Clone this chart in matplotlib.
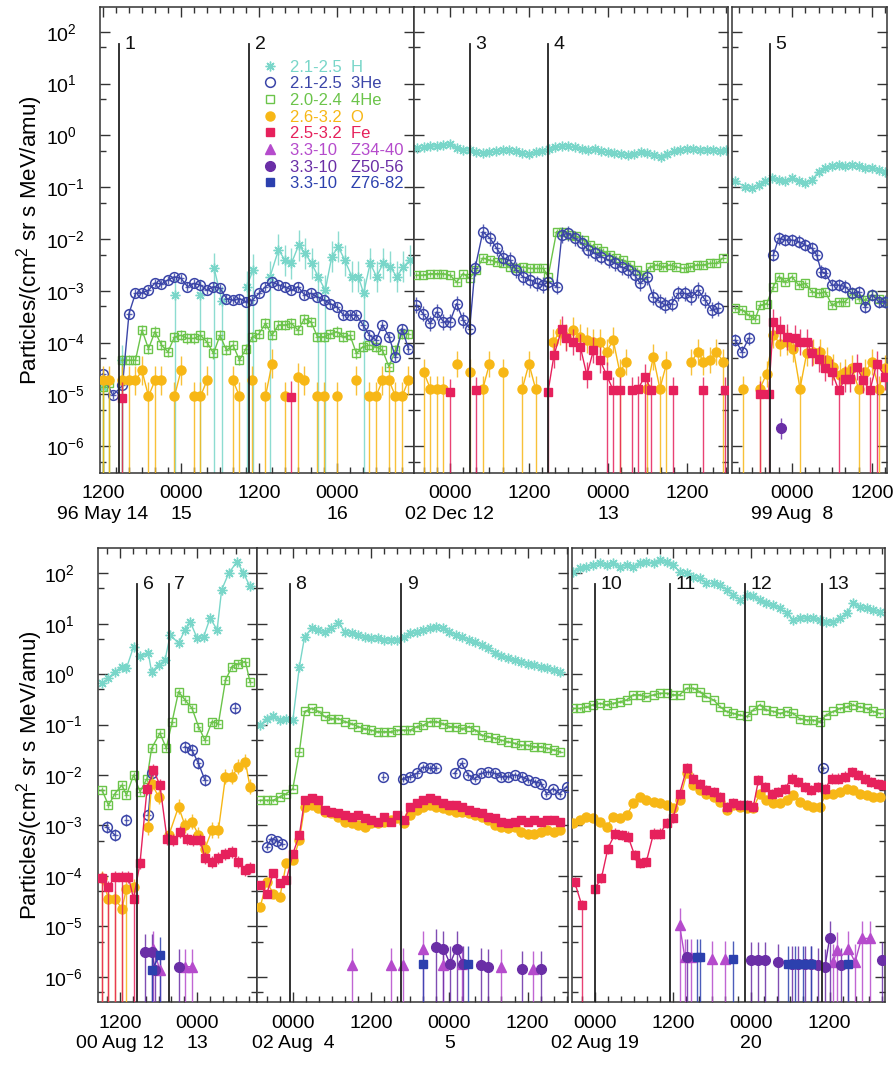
import numpy as np
import matplotlib
matplotlib.use("Agg")
import matplotlib.pyplot as plt
from matplotlib.lines import Line2D
from matplotlib.ticker import FixedLocator, MultipleLocator, NullFormatter, LogFormatterSciNotation

plt.rcParams['font.family'] = ['Liberation Sans', 'DejaVu Sans']
plt.rcParams['mathtext.fontset'] = 'custom'
plt.rcParams['mathtext.rm'] = 'Liberation Sans'
plt.rcParams['mathtext.it'] = 'Liberation Sans:italic'

# ---- data: hours from 00:00 of the first day of each panel, log10 intensity ----
# panel 1: 96 May 14-16
h1_t = [12, 14.9, 23.1, 27, 29.1, 30.3, 34.1, 35.1, 37.7, 39, 40, 41, 42.1, 43.1, 44.1, 45.1, 46.2,
        47.2, 48.2, 49.2, 50.3, 51.3, 52.1, 53.1, 54.1, 55.1, 56.2, 57.2, 58.2, 59.2]
h1 = [-4.85, -4.34, -3.08, -3.08, -2.57, -3.2, -2.92, -2.6, -2.73, -2.21, -2.41, -2.47, -2.12, -2.28,
      -2.47, -2.73, -2.99, -2.34, -2.15, -2.41, -2.73, -2.73, -3.05, -2.47, -2.73, -2.47, -2.54, -2.73,
      -2.54, -2.41]
h1_floor = [0, 1, 2, 3, 4, 5, 6, 7, 8, 15, 16, 22]
he3_1_t = [12, 13.5, 15, 16, 17, 18, 19, 20, 21, 22, 23, 24, 25, 26, 27, 28, 29, 30, 31, 32, 33, 34,
           35, 36, 37, 38, 39, 40, 41, 42, 43, 44, 45, 46, 47, 48, 49, 50, 51, 52, 53, 54, 55, 56, 57,
           58, 59]
he3_1 = [-4.6, -5.02, -4.83, -3.44, -3.05, -3.04, -2.99, -2.85, -2.87, -2.79, -2.73, -2.76, -2.92,
         -2.86, -2.89, -2.99, -2.92, -2.95, -3.15, -3.18, -3.15, -3.21, -3.18, -3.05, -2.92, -2.83,
         -2.89, -2.92, -2.99, -2.92, -3.08, -3.05, -3.12, -3.18, -3.25, -3.31, -3.47, -3.47, -3.47,
         -3.66, -3.86, -3.95, -3.66, -3.89, -4.28, -3.73, -4.12]
he4_1_t = [12, 13, 15, 16, 17, 18, 19, 20, 21, 22, 23, 24, 25, 26, 27, 28, 29, 30, 31, 32, 33, 34,
           35, 36, 37, 38, 39, 40, 41, 42, 43, 44, 45, 46, 47, 48, 49, 50, 51, 52, 53, 54, 55, 56, 57,
           58, 59]
he4_1 = [-4.86, -4.79, -4.34, -4.34, -4.34, -3.76, -4.12, -3.79, -4.05, -4.18, -3.89, -3.86, -3.92,
         -3.92, -3.86, -3.99, -4.21, -3.86, -4.15, -4.05, -4.34, -4.12, -3.89, -3.83, -3.63, -3.86,
         -3.66, -3.66, -3.63, -3.76, -3.54, -3.6, -3.89, -3.89, -3.83, -3.79, -3.89, -3.86, -4.21,
         -4.08, -4.05, -4.08, -4.15, -4.47, -4.15, -3.83, -3.83]
he4_1_floor = [0, 1, 2]
o1_t = [12, 13, 15, 16, 17, 18, 19, 20, 21, 23, 24, 26, 27, 28, 32, 33, 35, 37, 38, 40, 42, 43, 45,
        46, 48, 51, 53, 54, 55, 56, 57, 58, 59]
o1 = [-4.73, -4.73, -4.73, -4.73, -4.73, -4.54, -5.04, -4.73, -4.73, -5.04, -4.54, -5.04, -5.04,
      -4.73, -4.73, -5.04, -4.73, -5.04, -4.41, -5.04, -4.67, -4.73, -5.04, -5.04, -5.04, -4.73,
      -5.04, -5.04, -4.73, -4.73, -5.04, -5.04, -4.73]
o1_floor = [0, 1, 3, 6, 7, 9, 11, 12, 14, 15, 16, 17, 19, 20, 22, 23, 24, 26, 27, 29, 30, 31]
fe1_t = [15, 41]
fe1 = [-5.07, -5.05]

# panel 2: 02 Dec 12-13
h2_t = [-5, -4, -3, -2, -1, 0, 1, 2, 3, 4, 5, 6, 7, 8, 9, 10, 11, 12, 13, 14, 15, 16, 17, 18, 19, 20,
        21, 22, 23, 24, 25, 26, 27, 28, 29, 30, 31, 32, 33, 34, 35, 36, 37, 38, 39, 40, 41, 42]
h2 = [-0.25, -0.23, -0.21, -0.2, -0.19, -0.16, -0.25, -0.28, -0.29, -0.33, -0.34, -0.32, -0.31, -0.28,
      -0.29, -0.31, -0.34, -0.36, -0.33, -0.31, -0.26, -0.23, -0.2, -0.21, -0.23, -0.26, -0.28, -0.26,
      -0.31, -0.33, -0.34, -0.36, -0.37, -0.36, -0.33, -0.34, -0.37, -0.41, -0.36, -0.31, -0.29, -0.27,
      -0.26, -0.28, -0.29, -0.28, -0.31, -0.29]
he3_2_t = [-5.1, -4.1, -3, -2, -1, 0, 1, 2, 3, 3.8, 5, 6.1, 7.1, 8.1, 9.1, 10.1, 11.1, 12.2, 13.2, 14.2,
           14.9, 16.2, 17, 18, 19, 20, 21, 22, 23, 24.1, 25.1, 26.1, 27.1, 28.1, 28.9, 29.9, 30.9,
           31.9, 32.7, 33.7, 34.7, 35.7, 36.7, 37.7, 38.8, 39.8, 40.8]
he3_2 = [-3.28, -3.44, -3.63, -3.41, -3.6, -3.6, -3.25, -3.57, -3.73, -2.57, -1.86, -1.99, -2.18,
         -2.37, -2.41, -2.6, -2.73, -2.79, -2.86, -2.89, -2.83, -2.92, -1.92, -1.89, -1.99, -2.08,
         -2.21, -2.28, -2.34, -2.41, -2.47, -2.54, -2.6, -2.7, -2.86, -2.73, -3.12, -3.21, -3.28,
         -3.25, -3.05, -3.05, -3.12, -2.99, -3.18, -3.37, -3.34]
he4_2_t = [-5.1, -4.1, -3, -2, -1, 0, 1, 2, 3, 4, 5, 6.1, 7.1, 8.1, 9.1, 10.1, 11.1, 12.2, 13.2, 14.2,
           14.9, 16.2, 17.2, 18.2, 19.2, 20.3, 21.3, 22.3, 23.3, 24.3, 25.3, 26.3, 27.4, 28.4, 29.4,
           30.4, 31.4, 32.4, 33.4, 34.4, 35.5, 36.5, 37.5, 38.5, 39.5, 40.5, 41.5]
he4_2 = [-2.7, -2.7, -2.67, -2.67, -2.67, -2.7, -2.83, -2.67, -2.76, -2.6, -2.37, -2.41, -2.44, -2.47,
         -2.54, -2.57, -2.54, -2.57, -2.57, -2.57, -2.73, -1.86, -1.86, -1.92, -1.95, -2.02, -2.12,
         -2.18, -2.24, -2.31, -2.37, -2.41, -2.5, -2.6, -2.7, -2.54, -2.5, -2.54, -2.5, -2.54, -2.57,
         -2.54, -2.5, -2.5, -2.47, -2.47, -2.37]
o2_t = [-4, -3, -2, -1, 1, 3, 5, 6, 8, 11, 12, 13, 15.7, 16.7, 17.7, 18.7, 19.8, 20.8, 21.8, 22.8,
        23.8, 24.8, 25.8, 26.8, 29.9, 30.9, 31.9, 32.9, 36.7, 37.7, 38.5, 39.5, 40.5, 41.5]
o2 = [-4.57, -4.89, -4.89, -4.89, -4.41, -4.57, -4.89, -4.41, -4.57, -4.89, -4.41, -4.89, -3.99,
      -3.79, -3.89, -3.76, -3.89, -3.95, -3.99, -3.99, -4.18, -3.95, -4.57, -4.37, -4.89, -4.28,
      -4.89, -4.41, -4.37, -4.18, -4.37, -4.34, -4.18, -4.37]
o2_floor = [0, 1, 2, 3, 5, 6, 8, 9, 11, 22, 24, 26, 27, 33]
fe2_t = [0, 4, 14.9, 15.8, 17, 17.7, 18.7, 19.8, 20.8, 21.8, 22.8, 23.8, 24.8, 25.8, 27.6, 28.6, 29.6,
         30.6, 33.9, 38.5, 41.8]
fe2 = [-4.95, -4.92, -4.95, -4.25, -3.73, -3.92, -3.99, -4.08, -4.63, -4.15, -4.34, -4.63, -4.92,
       -4.92, -4.92, -4.89, -4.66, -4.92, -4.92, -4.92, -4.92]
fe2_floor = [0, 1, 2, 11, 12, 13, 14, 15, 16, 17, 18, 19, 20]

# panel 3: 99 Aug 7-8
h3_t = [-8.5, -7, -6, -5, -4, -3, -2, -1, 0, 1, 2, 3, 4, 5, 6, 7, 8, 9, 10, 11, 12, 13, 14]
h3 = [-0.89, -0.99, -1.02, -0.95, -0.89, -0.83, -0.86, -0.89, -0.83, -0.89, -0.92, -0.86, -0.7,
      -0.63, -0.6, -0.57, -0.6, -0.57, -0.6, -0.63, -0.63, -0.66, -0.7]
he3_3_t = [-8.5, -7.5, -6.5, -2.8, -2, -1, 0, 1, 2, 3, 3.7, 4.4, 5, 6, 7, 8, 9, 10, 11, 12, 13, 14]
he3_3 = [-3.95, -4.18, -3.92, -2.31, -1.99, -2.02, -2.02, -2.05, -2.12, -2.18, -2.31, -2.63, -2.66,
         -2.89, -2.89, -2.92, -3.05, -3.02, -3.31, -3.08, -3.21, -3.21]
he4_3_t = [-8.5, -7.5, -6.5, -5.5, -4.8, -3.8, -2.8, -2, -1, 0, 1, 2, 3, 4, 5, 6, 7, 8, 9, 10, 11, 12,
           13, 14]
he4_3 = [-3.34, -3.37, -3.47, -3.54, -3.28, -3.25, -2.92, -2.73, -2.83, -2.73, -2.89, -2.86, -3.02,
         -3.05, -3.02, -3.28, -3.21, -3.21, -3.05, -3.15, -3.18, -3.08, -3.15, -3.21]
o3_t = [-7.3, -4.8, -3.8, -2.8, -1.8, -0.8, 0.2, 1.2, 2.2, 3.2, 4.2, 5.2, 6.2, 7.2, 8, 9, 10, 11, 12,
        13, 14]
o3 = [-4.89, -4.89, -4.6, -3.86, -4.02, -3.99, -4.12, -4.89, -4.21, -4.18, -4.18, -4.34, -4.47,
      -4.63, -4.57, -4.5, -4.89, -4.57, -4.37, -4.89, -4.5]
o3_floor = [0, 1, 7, 16, 19]
fe3_t = [-4.8, -3.5, -2.8, -1.8, -0.8, 0.4, 1.2, 2.2, 3, 4, 5, 6, 7, 8, 8.7, 9.7, 10.7, 11.7, 12.7, 14]
fe3 = [-4.99, -4.99, -3.6, -3.73, -3.89, -3.92, -3.99, -3.99, -4.21, -4.31, -4.5, -4.57, -4.92,
       -4.7, -4.7, -4.47, -4.73, -4.92, -4.41, -4.66]
fe3_floor = [0, 1, 12, 17, 18]
z50_3_t = [-1.6]
z50_3 = [-5.66]

# panel 4: 00 Aug 12-13
h4_t = [9.2, 10.2, 11.2, 12.3, 13, 14.1, 15.1, 16.4, 16.9, 18, 19, 19.8, 21.1, 22.1, 22.9, 24, 25,
        26, 27.1, 27.8, 28.9, 30.2, 31.2, 32.2]
h4 = [-0.18, -0.08, 0.05, 0.15, 0.12, 0.54, 0.35, 0.41, 0.05, 0.18, 0.28, 0.78, 0.61, 0.88, 1.04,
      0.71, 0.74, 1.11, 0.88, 1.67, 2.0, 2.23, 2.0, 1.74]
he4_4_t = [9.2, 10.2, 11.2, 12.3, 13, 14.1, 15.1, 16.2, 16.9, 18.2, 19.2, 20.1, 21.1, 22.1, 23.2,
           24.2, 25.2, 26.3, 27.3, 28.4, 29.4, 30.4, 31.5, 32.2]
he4_4 = [-2.3, -2.6, -2.37, -2.2, -2.4, -2.0, -2.33, -2.07, -1.47, -1.17, -1.47, -0.94, -0.35, -0.51,
         -0.68, -1.04, -1.31, -0.94, -0.98, -0.12, 0.15, 0.21, 0.25, -0.15]
he3_4_t = [9.9, 11.2, 13, 16.4, 16.9, 22.1, 23.2, 24.2, 25.2, 29.9]
he3_4 = [-3.03, -3.19, -2.89, -2.79, -1.97, -1.44, -1.51, -1.77, -2.1, -0.68]
o4_t = [9.2, 10.2, 11.2, 12.3, 13, 14.1, 16.4, 16.9, 18, 19.6, 21.1, 22.1, 23.2, 24.2, 25.2, 26.3,
        27.3, 28.4, 29.4, 30.4, 31.5, 32.2]
o4 = [-4.05, -4.45, -4.45, -4.65, -4.25, -4.22, -3.03, -2.17, -2.43, -3.19, -2.63, -3.0, -2.93,
      -3.19, -3.46, -3.09, -3.09, -2.03, -2.03, -1.84, -1.74, -2.23]
o4_floor = [0, 1, 2, 3, 4]
fe4_t = [9.2, 10.2, 11.2, 12.3, 13.3, 14.1, 15.1, 16.2, 17.2, 18.2, 19.3, 20.3, 21.4, 22.4, 23.4,
         24.5, 25.2, 26.3, 27.3, 28.4, 29.4, 30.4, 31.5, 32.2]
fe4 = [-4.05, -4.22, -4.02, -4.02, -4.02, -4.45, -3.75, -2.27, -1.9, -2.2, -3.26, -3.29, -3.13, -3.26,
       -3.29, -3.29, -3.65, -3.72, -3.65, -3.56, -3.52, -3.72, -3.89, -3.85]
fe4_floor = [0, 1, 2, 3, 5]
z34_4_t = [17.2, 18.2, 22.1, 23.2]
z34_4 = [-5.44, -5.87, -5.8, -5.8]
z50_4_t = [15.9, 16.9, 17.5, 21.1]
z50_4 = [-5.51, -5.51, -5.87, -5.8]
z76_4_t = [16.9, 18.2]
z76_4 = [-5.87, -5.57]

# panel 5: 02 Aug 3-5
t5 = [-5, -4, -3, -2, -1, 0, 1, 1.8, 2.9, 3.9, 4.9, 5.9, 7, 8, 9, 10, 11, 12, 13, 14, 15, 16, 17,
      18, 19, 20, 21, 22, 23, 24, 25, 26, 27, 28, 29, 30, 31, 32, 33, 34, 35, 36, 37, 38, 39, 40, 41]
h5 = [-1.01, -0.88, -0.84, -0.91, -0.88, -0.91, 0.15, 0.74, 0.91, 0.88, 0.84, 0.91, 1.01, 0.84, 0.81,
      0.78, 0.74, 0.71, 0.71, 0.68, 0.68, 0.68, 0.74, 0.81, 0.84, 0.88, 0.91, 0.94, 0.91, 0.84, 0.78,
      0.74, 0.68, 0.64, 0.58, 0.51, 0.41, 0.35, 0.31, 0.28, 0.25, 0.21, 0.18, 0.15, 0.12, 0.08, 0.05]
he4_5 = [-2.5, -2.5, -2.5, -2.43, -2.37, -2.27, -1.54, -0.74, -0.68, -0.74, -0.84, -0.88, -0.88,
         -0.94, -0.98, -1.04, -1.08, -1.11, -1.14, -1.14, -1.14, -1.11, -1.11, -1.11, -1.04, -1.01,
         -0.94, -0.94, -0.98, -1.04, -1.04, -1.08, -1.04, -1.11, -1.21, -1.24, -1.27, -1.31, -1.34,
         -1.37, -1.41, -1.41, -1.44, -1.44, -1.47, -1.5, -1.54]
fe5 = [-4.18, -4.35, -3.95, -4.15, -4.08, -3.56, -3.19, -2.5, -2.46, -2.5, -2.7, -2.73, -2.76, -2.8,
       -2.83, -2.8, -2.86, -2.89, -2.93, -2.83, -2.93, -2.8, -2.89, -2.63, -2.56, -2.5, -2.46, -2.5,
       -2.56, -2.6, -2.6, -2.63, -2.7, -2.73, -2.76, -2.83, -2.86, -2.93, -2.96, -2.93, -2.89, -2.93,
       -2.89, -2.93, -2.89, -2.89, -2.93]
o5 = [-4.61, -4.12, -4.35, -4.42, -3.75, -3.69, -3.29, -2.63, -2.6, -2.66, -2.73, -2.76, -2.83, -2.93,
      -2.96, -2.99, -3.03, -2.96, -2.96, -2.93, -2.89, -2.86, -2.96, -2.8, -2.7, -2.63, -2.6, -2.63,
      -2.66, -2.7, -2.73, -2.73, -2.76, -2.8, -2.83, -2.89, -2.99, -3.03, -3.06, -3.03, -3.13, -3.16,
      -3.16, -3.13, -3.09, -3.13, -3.09]
he3_5_t = [-4, -3.3, -2.5, -1.7, 13.9, 16.9, 17.9, 19, 20, 21, 22, 24.8, 25.9, 26.9, 27.9, 28.9, 30,
           31, 32, 33, 34, 35.1, 36.1, 37.1, 38.1, 38.9, 39.9, 40.9, 42]
he3_5 = [-3.42, -3.26, -3.3, -3.36, -2.03, -2.07, -2.03, -1.97, -1.84, -1.87, -1.87, -1.97, -1.77,
         -2.0, -2.07, -1.97, -1.94, -1.97, -2.03, -2.03, -2.0, -2.03, -2.1, -2.13, -2.17, -2.37, -2.27,
         -2.37, -2.23]
z34_5_t = [9, 15.1, 16.9, 20, 23.1, 25.9, 32, 36.9]
z34_5 = [-5.77, -5.77, -5.77, -5.44, -5.77, -5.74, -5.8, -5.84]
z50_5_t = [22, 23.1, 24.1, 25.1, 26.1, 28.9, 30, 35.1, 38.1]
z50_5 = [-5.41, -5.44, -5.74, -5.44, -5.74, -5.77, -5.8, -5.84, -5.84]
z76_5_t = [20, 26.9]
z76_5 = [-5.74, -5.74]

# panel 6: 02 Aug 18-20
t6 = [-3.3, -2.3, -1.3, -0.3, 0.8, 1.8, 2.8, 3.8, 4.9, 5.9, 6.9, 7.9, 9, 10, 11, 12, 13, 14.1, 15.1,
      16.1, 17.1, 18.2, 19.2, 20.2, 21.2, 22.2, 23.3, 24.3, 25.3, 26.3, 27.4, 28.4, 29.4, 30.4, 31.4,
      32.5, 33.5, 34.5, 35.5, 36.6, 37.6, 38.6, 39.6, 40.6, 41.7, 42.7, 43.7]
h6 = [2.03, 2.1, 2.13, 2.17, 2.2, 2.17, 2.2, 2.13, 2.17, 2.13, 2.2, 2.23, 2.2, 2.26, 2.23, 2.17, 2.03,
      2.0, 1.93, 1.9, 1.8, 1.8, 1.77, 1.67, 1.57, 1.47, 1.57, 1.54, 1.47, 1.4, 1.37, 1.31, 1.21, 1.07,
      1.11, 1.11, 1.11, 1.07, 1.04, 1.04, 1.11, 1.21, 1.4, 1.34, 1.31, 1.27, 1.24]
he4_6 = [-0.68, -0.68, -0.65, -0.61, -0.58, -0.61, -0.58, -0.55, -0.51, -0.41, -0.41, -0.45, -0.41,
         -0.38, -0.38, -0.41, -0.41, -0.28, -0.28, -0.35, -0.45, -0.51, -0.65, -0.74, -0.78, -0.81,
         -0.84, -0.71, -0.61, -0.71, -0.74, -0.78, -0.74, -0.78, -0.88, -0.91, -0.91, -0.94, -0.81,
         -0.74, -0.68, -0.65, -0.61, -0.65, -0.68, -0.74, -0.78]
o6 = [-2.96, -2.89, -2.83, -2.86, -2.93, -3.03, -2.83, -2.86, -2.8, -2.56, -2.43, -2.5, -2.53, -2.56,
      -2.6, -2.66, -2.5, -1.97, -2.2, -2.3, -2.37, -2.43, -2.53, -2.7, -2.6, -2.63, -2.66, -2.66, -2.37,
      -2.5, -2.56, -2.56, -2.5, -2.4, -2.53, -2.6, -2.63, -2.63, -2.37, -2.37, -2.33, -2.27, -2.3,
      -2.37, -2.4, -2.43, -2.43]
fe6_t = [-3.1, -2.0, 0, 1, 2, 3.1, 4.1, 5.1, 6.1, 6.9, 7.9, 9, 10, 11, 12, 13, 14.1, 15.1, 16.1, 17.1,
         18.2, 19.2, 20.2, 21.2, 22.2, 23.3, 24.3, 25.1, 26.1, 27.1, 28.1, 29.1, 30.2, 31.2, 32.2,
         33.2, 34.2, 35.3, 36.3, 37.3, 38.3, 39.4, 40.4, 41.4, 42.4, 43.5, 44.2]
fe6 = [-4.12, -4.58, -4.25, -4.05, -3.46, -3.16, -3.19, -3.22, -3.59, -3.75, -3.72, -3.16, -3.16,
       -2.96, -2.86, -2.37, -1.87, -2.07, -2.17, -2.3, -2.33, -2.43, -2.63, -2.56, -2.6, -2.6, -2.63,
       -2.1, -2.23, -2.37, -2.33, -2.27, -2.07, -2.13, -2.23, -2.3, -2.23, -2.27, -2.07, -2.07, -2.03,
       -1.94, -2.0, -2.07, -2.13, -2.17, -2.2]
fe6_floor = [1]
he3_6_t = [35]
he3_6 = [-1.87]
z34_6_t = [13, 13.8, 14.8, 17.9, 19.9, 36.6, 37.1, 38.9, 39.9, 40.9, 42.2]
z34_6 = [-4.98, -5.61, -5.61, -5.64, -5.64, -5.71, -5.47, -5.44, -5.71, -5.24, -5.24]
z50_6_t = [14.1, 24, 25.1, 26.1, 28.1, 30.2, 31.2, 32.2, 33.2, 34.3, 35.3, 36, 37.8, 44]
z50_6 = [-5.61, -5.67, -5.67, -5.67, -5.71, -5.74, -5.74, -5.74, -5.74, -5.77, -5.8, -5.24, -5.77,
         -5.67]
z76_6_t = [15.6, 16.1, 21.2, 29.7, 30.7, 32, 33.2, 38.9]
z76_6 = [-5.61, -5.61, -5.64, -5.74, -5.74, -5.74, -5.74, -5.74]

# event (shock) times and labels
ev1_t, ev1_lab = [14.5, 34.5], ['1', '2']
ev2_t, ev2_lab = [3.0, 14.9], ['3', '4']
ev3_t, ev3_lab = [-3.3], ['5']
ev4_t, ev4_lab = [14.65, 19.6], ['6', '7']
ev5_t, ev5_lab = [-0.45, 16.6], ['8', '9']
ev6_t, ev6_lab = [0.0, 11.5, 23.0, 34.9], ['10', '11', '12', '13']

legend_lab = ['2.1-2.5  H', '2.1-2.5  3He', '2.0-2.4  4He', '2.6-3.2  O', '2.5-3.2  Fe',
              '3.3-10   Z34-40', '3.3-10   Z50-56', '3.3-10   Z76-82']
species = ['H', 'He3', 'He4', 'O', 'Fe', 'Z34', 'Z50', 'Z76']
y_major = [1e-6, 1e-5, 1e-4, 1e-3, 1e-2, 1e-1, 1e0, 1e1, 1e2]
y_minor = [5e-7, 5e-6, 5e-5, 5e-4, 5e-3, 5e-2, 5e-1, 5e0, 5e1]

# ---- style ----
COL = {'H': '#79d6c9', 'He3': '#3b45a8', 'He4': '#6bc44a', 'O': '#f7b716', 'Fe': '#e6215c',
       'Z34': '#b54bcc', 'Z50': '#6a2ea6', 'Z76': '#2c40ae'}
ZORD = {'H': 2, 'He4': 3, 'He3': 4, 'O': 5, 'Fe': 6, 'Z34': 7, 'Z50': 7, 'Z76': 7}
MK = {
    'H': dict(marker=(8, 2, 0), ms=7, mec=COL['H'], mew=1.0),
    'He3': dict(marker='o', ms=7, mfc='none', mec=COL['He3'], mew=1.1),
    'He4': dict(marker='s', ms=6, mfc='none', mec=COL['He4'], mew=1.0),
    'O': dict(marker='o', ms=6.5, mfc=COL['O'], mec=COL['O']),
    'Fe': dict(marker='s', ms=6, mfc=COL['Fe'], mec=COL['Fe']),
    'Z34': dict(marker='^', ms=7, mfc=COL['Z34'], mec=COL['Z34']),
    'Z50': dict(marker='o', ms=7, mfc=COL['Z50'], mec=COL['Z50']),
    'Z76': dict(marker='s', ms=6, mfc=COL['Z76'], mec=COL['Z76']),
}
FLOOR = 1e-9
GAP = 1.6  # hours: no line across missing data


def gapped(t, v):
    tt, vv = [t[0]], [v[0]]
    for i in range(1, len(t)):
        if t[i] - t[i - 1] > GAP:
            tt.append(np.nan)
            vv.append(np.nan)
        tt.append(t[i])
        vv.append(v[i])
    return tt, vv


def draw(ax, sp, t, lg, err, floor=(), xerr=None):
    t = np.asarray(t, float)
    v = 10.0 ** np.asarray(lg, float)
    c = COL[sp]
    z = ZORD[sp]
    tt, vv = gapped(t, v)
    ax.plot(tt, vv, '-', color=c, lw=1.0, zorder=z)
    if err > 0:
        lo = v - v / 10 ** err
        hi = v * 10 ** err - v
        fl = np.asarray(floor, dtype=int)
        lo[fl] = v[fl] - FLOOR
        ax.errorbar(t, v, yerr=[lo, hi], xerr=xerr, fmt='none', ecolor=c, elinewidth=1.0,
                    alpha=0.85, zorder=z)
    ax.plot(t, v, ls='none', color=c, zorder=z + 0.5, **MK[sp])


def heavy(ax, sp, t, lg):
    draw(ax, sp, t, lg, 0.35, floor=range(len(t)))


W, H = 896, 1078
fig = plt.figure(figsize=(W / 100, H / 100), dpi=100)


def add_ax(x0, x1, y0, y1):
    return fig.add_axes([x0 / W, 1 - y1 / H, (x1 - x0) / W, (y1 - y0) / H])


ax1 = add_ax(100, 414, 7, 473)
ax2 = add_ax(414, 728, 7, 473)
ax3 = add_ax(732, 887, 7, 473)
ax4 = add_ax(98, 257, 548, 1002)
ax5 = add_ax(257, 568, 548, 1002)
ax6 = add_ax(572, 885, 548, 1002)

for ax in [ax1, ax2, ax3, ax4, ax5, ax6]:
    ax.set_yscale('log')

# panel 1
draw(ax1, 'H', h1_t, h1, 0.3, h1_floor)
draw(ax1, 'He4', he4_1_t, he4_1, 0.1, he4_1_floor, xerr=0.45)
draw(ax1, 'He3', he3_1_t, he3_1, 0.08, xerr=0.45)
draw(ax1, 'O', o1_t, o1, 0.28, o1_floor)
draw(ax1, 'Fe', fe1_t, fe1, 0.3, [0, 1])
# panel 2
draw(ax2, 'H', h2_t, h2, 0)
draw(ax2, 'He4', he4_2_t, he4_2, 0.06, xerr=0.45)
draw(ax2, 'He3', he3_2_t, he3_2, 0.15, xerr=0.45)
draw(ax2, 'O', o2_t, o2, 0.25, o2_floor)
draw(ax2, 'Fe', fe2_t, fe2, 0.25, fe2_floor)
# panel 3
draw(ax3, 'H', h3_t, h3, 0)
draw(ax3, 'He4', he4_3_t, he4_3, 0.06, xerr=0.45)
draw(ax3, 'He3', he3_3_t, he3_3, 0.12, xerr=0.45)
draw(ax3, 'O', o3_t, o3, 0.25, o3_floor)
draw(ax3, 'Fe', fe3_t, fe3, 0.25, fe3_floor)
draw(ax3, 'Z50', z50_3_t, z50_3, 0.2)
# panel 4
draw(ax4, 'H', h4_t, h4, 0.03)
draw(ax4, 'He4', he4_4_t, he4_4, 0.06, xerr=0.45)
draw(ax4, 'He3', he3_4_t, he3_4, 0.12, xerr=0.45)
draw(ax4, 'O', o4_t, o4, 0.15, o4_floor)
draw(ax4, 'Fe', fe4_t, fe4, 0.12, fe4_floor)
heavy(ax4, 'Z34', z34_4_t, z34_4)
heavy(ax4, 'Z50', z50_4_t, z50_4)
heavy(ax4, 'Z76', z76_4_t, z76_4)
# panel 5
draw(ax5, 'H', t5, h5, 0)
draw(ax5, 'He4', t5, he4_5, 0.03, xerr=0.45)
draw(ax5, 'He3', he3_5_t, he3_5, 0.06, xerr=0.45)
draw(ax5, 'O', t5, o5, 0.08)
draw(ax5, 'Fe', t5, fe5, 0.08)
heavy(ax5, 'Z34', z34_5_t, z34_5)
heavy(ax5, 'Z50', z50_5_t, z50_5)
heavy(ax5, 'Z76', z76_5_t, z76_5)
# panel 6
draw(ax6, 'H', t6, h6, 0)
draw(ax6, 'He4', t6, he4_6, 0.03, xerr=0.45)
draw(ax6, 'He3', he3_6_t, he3_6, 0.05, xerr=0.45)
draw(ax6, 'O', t6, o6, 0.05)
draw(ax6, 'Fe', fe6_t, fe6, 0.1, fe6_floor)
heavy(ax6, 'Z34', z34_6_t, z34_6)
heavy(ax6, 'Z50', z50_6_t, z50_6)
heavy(ax6, 'Z76', z76_6_t, z76_6)

panels = [
    (ax1, (11.54, 59.85), [12, 24, 36, 48], ['1200\n96 May 14', '0000\n15', '1200', '0000\n16'],
     ev1_t, ev1_lab, True, 0),
    (ax2, (-5.47, 42.25), [0, 12, 24, 36], ['0000\n02 Dec 12', '1200', '0000\n13', '1200'],
     ev2_t, ev2_lab, False, 0),
    (ax3, (-9.0, 14.25), [0, 12], ['0000\n99 Aug  8', '1200'], ev3_t, ev3_lab, False, 0),
    (ax4, (8.57, 33.3), [12, 24], ['1200\n00 Aug 12', '0000\n13'], ev4_t, ev4_lab, True, 1),
    (ax5, (-5.5, 42.2), [0, 12, 24, 36], ['0000\n02 Aug  4', '1200', '0000\n5', '1200'],
     ev5_t, ev5_lab, False, 1),
    (ax6, (-3.5, 44.5), [0, 12, 24, 36], ['0000\n02 Aug 19', '1200', '0000\n20', '1200'],
     ev6_t, ev6_lab, False, 1),
]

for ax, xl, ticks, labs, evt, evl, show_y, row in panels:
    ax.set_xlim(*xl)
    if row == 0:
        ax.set_ylim(10 ** -6.52, 10 ** 2.48)
    else:
        ax.set_ylim(10 ** -6.5, 10 ** 2.5)
    ax.xaxis.set_major_locator(FixedLocator(ticks))
    ax.set_xticklabels(labs)
    ax.xaxis.set_minor_locator(MultipleLocator(2))
    ax.yaxis.set_major_locator(FixedLocator(y_major))
    ax.yaxis.set_major_formatter(LogFormatterSciNotation())
    ax.yaxis.set_minor_locator(FixedLocator(y_minor))
    ax.yaxis.set_minor_formatter(NullFormatter())
    ax.tick_params(which='both', direction='in', top=True, right=True, width=1.0, color='#333333')
    ax.tick_params(which='major', length=7)
    ax.tick_params(which='minor', length=4)
    ax.tick_params(axis='x', labelsize=14, pad=9)
    for lab in ax.get_xticklabels():
        lab.set_linespacing(1.3)
    if show_y:
        ax.tick_params(axis='y', labelsize=14, pad=39)
        for lab in ax.get_yticklabels():
            lab.set_horizontalalignment('left')
    else:
        ax.tick_params(axis='y', labelleft=False)
    for s in ax.spines.values():
        s.set_linewidth(1.1)
        s.set_color('#333333')
    for t, lab in zip(evt, evl):
        ax.axvline(t, ymin=0, ymax=0.92, color='#222222', lw=1.3, zorder=8)
        ax.annotate(lab, xy=(t, 0.92), xycoords=('data', 'axes fraction'), xytext=(4, 0),
                    textcoords='offset points', ha='left', va='center', fontsize=14, color='#111111')

# legend in first panel
handles = [Line2D([], [], ls='none', **MK[sp]) for sp in species]
leg = ax1.legend(handles, legend_lab, loc='upper left', bbox_to_anchor=(0.516, 0.887),
                 frameon=False, fontsize=12, handlelength=1.0, handletextpad=0.7,
                 labelspacing=0.1, borderpad=0, borderaxespad=0)
for txt, sp in zip(leg.get_texts(), species):
    txt.set_color(COL[sp])

ylab = 'Particles/(cm$^2$ sr s MeV/amu)'
fig.text(30 / W, 1 - 240 / H, ylab, rotation=90, ha='center', va='center', fontsize=16)
fig.text(30 / W, 1 - 775 / H, ylab, rotation=90, ha='center', va='center', fontsize=16)

fig.savefig('out.png', dpi=100)
